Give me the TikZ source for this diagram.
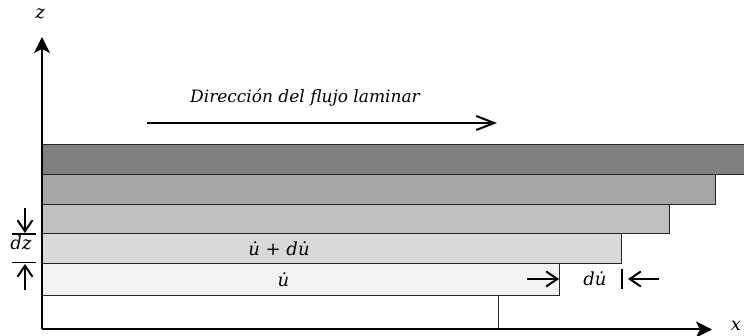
\documentclass[tikz,border=0pt]{standalone}
\usepackage{fontspec}
\newfontfamily\lblfont{DejaVu Serif}
\usetikzlibrary{arrows.meta}
\begin{document}
\begin{tikzpicture}[x=1pt,y=-1pt,
  layerbox/.style={draw=black!85, line width=1pt, anchor=north west, inner sep=0pt, outer sep=0pt},
  axisline/.style={line width=2pt, -{Stealth[length=16pt,width=16pt,inset=4pt]}},
  bigbarb/.style={line width=2pt, -{Straight Barb[length=18pt,width=14pt,line width=2pt]}},
  smallbarb/.style={line width=2pt, -{Straight Barb[length=11pt,width=15pt,line width=2pt]}},
  lbl/.style={inner sep=0pt, font=\lblfont\itshape\fontsize{18}{21}\selectfont},
  flowlbl/.style={inner sep=0pt, font=\lblfont\itshape\fontsize{17}{20}\selectfont}]
\useasboundingbox (0,0) rectangle (744,336);
% layers
\node[layerbox, minimum width=456pt, minimum height=33.7pt, fill=white] (l6) at (42,295.3) {};
\node[layerbox, fill=black!5, minimum width=517.7pt, minimum height=31.3pt] (l5) at (42,264) {};
\node[layerbox, fill=black!15, minimum width=579.7pt, minimum height=30pt] (l4) at (42,234) {};
\node[layerbox, fill=black!25, minimum width=627.7pt, minimum height=29.7pt] (l3) at (42,204.3) {};
\node[layerbox, fill=black!35, minimum width=673.7pt, minimum height=29.8pt] (l2) at (42,174.5) {};
\node[layerbox, fill=black!50, minimum width=703pt, minimum height=29.5pt] (l1) at (42,145) {};
% axes
\coordinate (O) at (42,329.5);
\coordinate (ztip) at (42,37);
\coordinate (xtip) at (712,329.5);
\draw[axisline] (O) -- (ztip);
\draw[axisline] (O) -- (xtip);
\node[lbl] (zl) at (40,14) {z};
\node[lbl] (xl) at (736,326) {x};
% flow
\node[flowlbl] (flow) at (305,98) {Dirección del flujo laminar};
\coordinate (fa) at (147,123);
\coordinate (fb) at (497,123);
\draw[bigbarb] (fa) -- (fb);
% labels
\node[lbl] (u1) at (279,249) {\.u + d\.u};
\node[lbl] (u0) at (283.5,280) {\.u};
\node[lbl] (du) at (595,279) {d\.u};
% du arrows
\coordinate (ra) at (527,279);
\coordinate (rb) at (559,279);
\draw[smallbarb] (ra) -- (rb);
\coordinate (bt) at (622,269);
\coordinate (bb) at (622,289);
\draw[line width=2pt] (bt) -- (bb);
\coordinate (la) at (659,279);
\coordinate (lb) at (628,279);
\draw[smallbarb] (la) -- (lb);
% dz
\coordinate (t1) at (12,234);
\coordinate (t2) at (36,234);
\coordinate (b1) at (12,262.7);
\coordinate (b2) at (36,262.7);
\draw[line width=1.2pt] (t1) -- (t2);
\draw[line width=1.2pt] (b1) -- (b2);
\node[lbl] (dz) at (21,243) {dz};
\coordinate (da) at (25,208);
\coordinate (db) at (25,233);
\draw[smallbarb] (da) -- (db);
\coordinate (ua) at (25,290);
\coordinate (ub) at (25,264);
\draw[smallbarb] (ua) -- (ub);
\end{tikzpicture}
\end{document}
